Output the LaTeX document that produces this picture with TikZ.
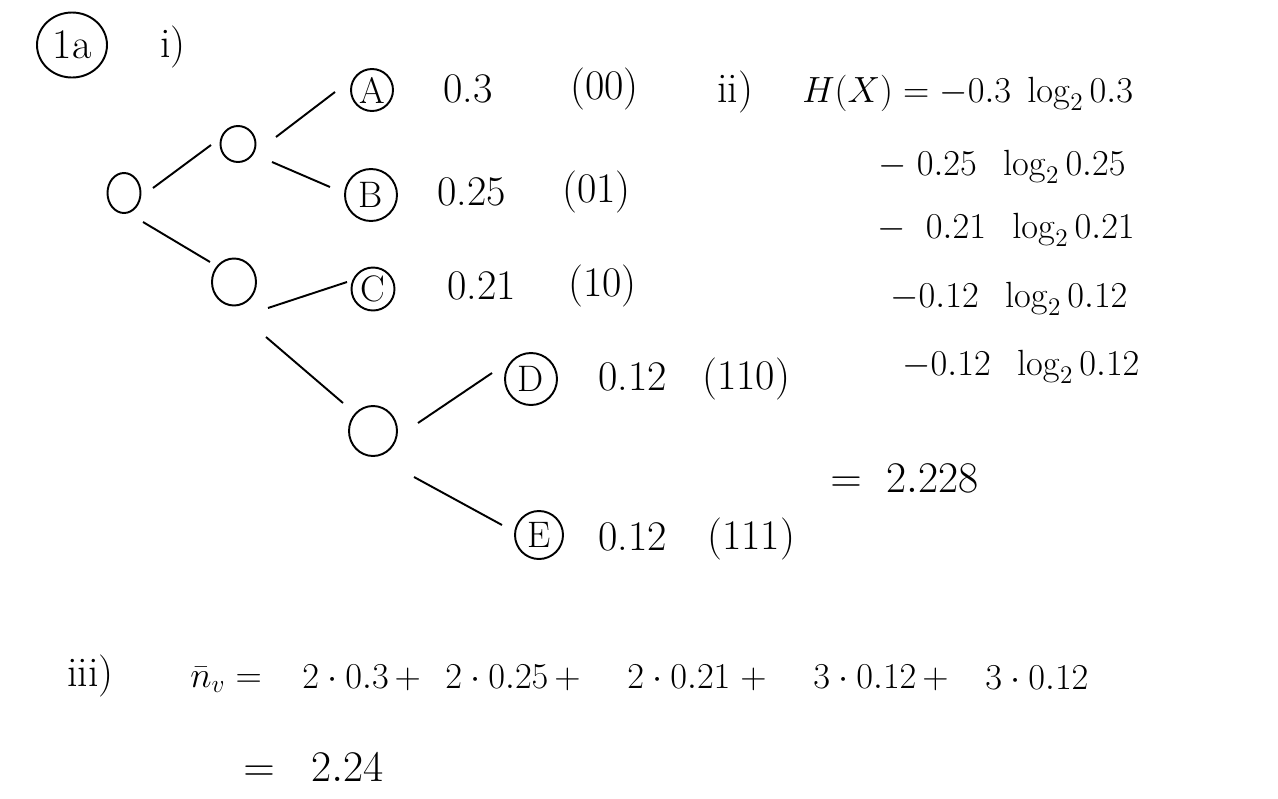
\documentclass[tikz,border=0pt]{standalone}
\usetikzlibrary{shapes.geometric,calc}
\begin{document}
\begin{tikzpicture}[x=0.02cm,y=-0.02cm,
  leaf/.style={circle, draw, line width=1.1pt, inner sep=0pt, minimum size=#1*0.02cm, font=\fontsize{21}{24}\selectfont},
  innode/.style={ellipse, draw, line width=1.1pt, inner sep=0pt},
  edge/.style={line width=1.1pt},
  txt/.style={anchor=west, inner sep=0pt, font=\fontsize{24}{28}\selectfont},
  eqn/.style={anchor=west, inner sep=0pt, font=\fontsize{22}{26}\selectfont},
  sumt/.style={anchor=west, inner sep=0pt, font=\fontsize{21}{25}\selectfont}]
\useasboundingbox (0,0) rectangle (1278,798);
% headings
\node[ellipse, draw, line width=1.1pt, minimum width=70*0.02cm, minimum height=65*0.02cm, inner sep=0pt, font=\fontsize{24}{28}\selectfont] (q) at (72,45) {1a};
\node[txt] (pi) at (160,47) {i)};
% tree nodes
\node[innode, minimum width=33*0.02cm, minimum height=40*0.02cm] (r) at (124,193) {};
\node[innode, minimum width=35*0.02cm, minimum height=36*0.02cm] (n1) at (238,144) {};
\node[innode, minimum width=44*0.02cm, minimum height=47*0.02cm] (n2) at (234,282) {};
\node[innode, minimum width=48*0.02cm, minimum height=50*0.02cm] (n3) at (373,431) {};
\node[leaf=42] (A) at (372,90) {A};
\node[leaf=52] (B) at (371,195) {B};
\node[leaf=43] (C) at (373,289) {C};
\node[leaf=52] (D) at (531,379) {D};
\node[leaf=48] (E) at (539,535) {E};
% connectors
\draw[edge] ($(r)+(29,-5)$) -- ($(n1)+(-27,1)$);
\draw[edge] ($(n1)+(38,-7)$) -- ($(A)+(-37,2)$);
\draw[edge] ($(n1)+(34,18)$) -- ($(B)+(-41,-8)$);
\draw[edge] ($(r)+(19,29)$) -- ($(n2)+(-24,-20)$);
\draw[edge] ($(n2)+(34,26)$) -- ($(C)+(-26,-7)$);
\draw[edge] ($(n2)+(32,55)$) -- ($(n3)+(-30,-28)$);
\draw[edge] ($(n3)+(45,-8)$) -- ($(D)+(-39,-6)$);
\draw[edge] ($(n3)+(41,46)$) -- ($(E)+(-37,-10)$);
% probabilities and codes
\node[txt] (pa) at (443,89) {0.3};
\node[txt] (ca) at (570,89) {(00)};
\node[txt] (pb) at (437,192) {0.25};
\node[txt] (cb) at (562,192) {(01)};
\node[txt] (pc) at (447,286) {0.21};
\node[txt] (cc) at (568,286) {(10)};
\node[txt] (pd) at (598,377) {0.12};
\node[txt] (cd) at (702,379) {(110)};
\node[txt] (pe) at (598,537) {0.12};
\node[txt] (ce) at (707,539) {(111)};
% entropy
\node[txt] (pii) at (717,92) {ii)};
\node[eqn, font=\fontsize{20}{24}\selectfont] (h1) at (802,93) {$H(X) = -0.3\;\log_2 0.3$};
\node[eqn] (h2) at (878,167) {$-\;0.25\;\;\log_2 0.25$};
\node[eqn] (h3) at (877,230) {$-\;\;0.21\;\;\log_2 0.21$};
\node[eqn] (h4) at (890,299) {$-0.12\;\;\log_2 0.12$};
\node[eqn] (h5) at (902,367) {$-0.12\;\;\log_2 0.12$};
\node[eqn, font=\fontsize{28}{32}\selectfont] (hr) at (830,478) {$=\;2.228$};
% average length
\node[txt] (piii) at (67,676) {iii)};
\node[sumt] (nv) at (190,680) {$\bar{n}_v =$};
\node[sumt] (t1) at (302,678) {$2\cdot 0.3\,+$};
\node[sumt] (t2) at (445,678) {$2\cdot 0.25\,+$};
\node[sumt] (t3) at (627,678) {$2\cdot 0.21\;+$};
\node[sumt] (t4) at (813,678) {$3\cdot 0.12\,+$};
\node[sumt] (t5) at (985,678) {$3\cdot 0.12$};
\node[sumt, font=\fontsize{24}{28}\selectfont] (nr) at (243,767) {$=\;\;2.24$};
\end{tikzpicture}
\end{document}
